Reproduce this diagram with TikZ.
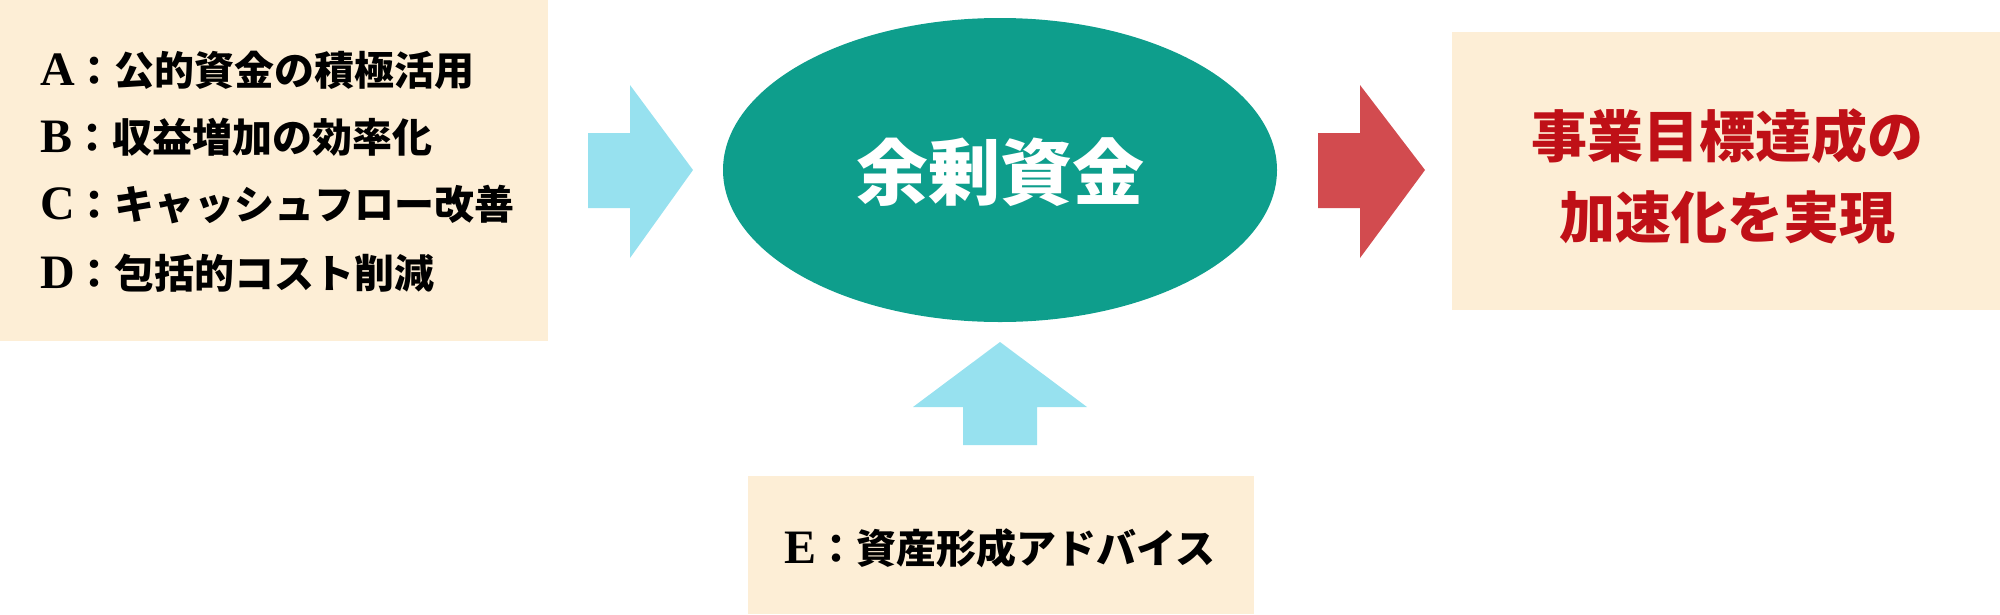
\documentclass[tikz,border=0pt]{standalone}
\usepackage{fontspec}
\usetikzlibrary{shapes.geometric}
\setmainfont{Liberation Serif}
\newfontfamily\cjk{Noto Sans CJK JP}
\definecolor{boxbg}{HTML}{FDEED6}
\definecolor{teal1}{HTML}{0E9E8C}
\definecolor{cyan1}{HTML}{97E1EF}
\definecolor{red1}{HTML}{D24B4F}
\definecolor{redtxt}{HTML}{BF1017}
\newcommand{\biglet}[1]{{\fontsize{48}{50}\selectfont #1}}
\tikzset{
  bgbox/.style={fill=boxbg, draw=none},
  listtxt/.style={anchor=west, inner sep=0pt, font=\fontsize{40}{44}\selectfont\bfseries},
}
\begin{document}
\begin{tikzpicture}[x=1pt,y=-1pt]
\useasboundingbox (0,0) rectangle (2000,614);
% left box
\path[bgbox] (0,0) rectangle (548,341);
\node[listtxt] (la) at (40,70) {\biglet{A}{\cjk ：公的資金の積極活用}};
\node[listtxt] (lb) at (40,137) {\biglet{B}{\cjk ：収益増加の効率化}};
\node[listtxt] (lc) at (40,205) {\biglet{C}{\cjk ：キャッシュフロー改善}};
\node[listtxt] (ld) at (40,273) {\biglet{D}{\cjk ：包括的コスト削減}};
% cyan right arrow
\path[fill=cyan1] (588,133) -- (630,133) -- (630,85) -- (693,170) -- (630,258) -- (630,208) -- (588,208) -- cycle;
% ellipse
\node[ellipse, fill=teal1, minimum width=554pt, minimum height=304pt, inner sep=0pt] (core) at (1000,170) {};
\node[text=white, font=\cjk\bfseries\fontsize{72}{76}\selectfont] (coretxt) at (1000,172) {余剰資金};
% red arrow
\path[fill=red1] (1318,133) -- (1360,133) -- (1360,85) -- (1425,170) -- (1360,258) -- (1360,208) -- (1318,208) -- cycle;
% right box
\path[bgbox] (1452,32) rectangle (2000,310);
\node[text=redtxt, font=\cjk\bfseries\fontsize{56}{60}\selectfont] (goal1) at (1727,136) {事業目標達成の};
\node[text=redtxt, font=\cjk\bfseries\fontsize{56}{60}\selectfont] (goal2) at (1727,217) {加速化を実現};
% up arrow
\path[fill=cyan1] (1000,342) -- (1087,407) -- (1037,407) -- (1037,445) -- (963,445) -- (963,407) -- (913,407) -- cycle;
% bottom box
\path[bgbox] (748,476) rectangle (1254,614);
\node[font=\fontsize{40}{44}\selectfont\bfseries] (etxt) at (1000,548) {\biglet{E}{\cjk ：資産形成アドバイス}};
\end{tikzpicture}
\end{document}
